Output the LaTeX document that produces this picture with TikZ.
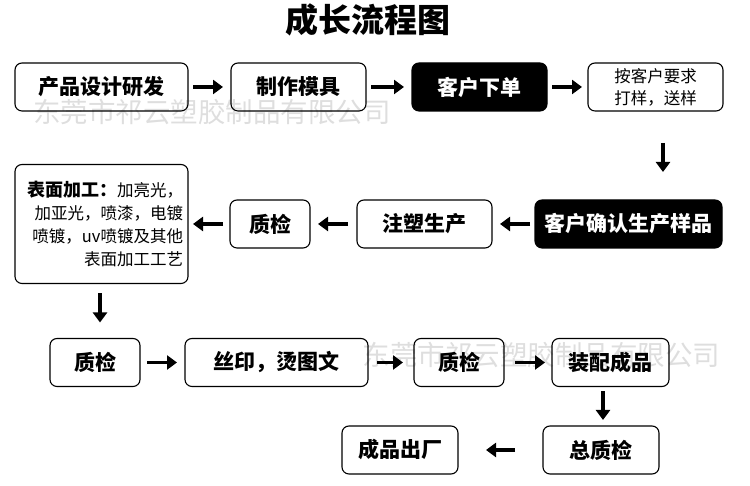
\documentclass[tikz,border=0pt]{standalone}
\usepackage{fontspec}
\setmainfont{Noto Sans CJK SC}
\usetikzlibrary{arrows.meta,positioning}

\begin{document}
\begin{tikzpicture}[x=1pt, y=1pt, node distance=43pt,
    box/.style={rectangle, draw, rounded corners=7pt, line width=1.1pt, minimum height=48pt, inner sep=0pt, outer sep=0pt, font=\bfseries\fontsize{21}{24}\selectfont},
    dark/.style={box, fill=black, text=white},
    arrow/.style={->, >={Triangle[length=10pt, width=14pt]}, line width=3.5pt},
    watermark/.style={text=black!13, font=\fontsize{27.5}{30}\selectfont}]

    \useasboundingbox (0,0) rectangle (750,486);

    % watermark, behind everything
    \node[watermark] (wm1) at (212,374) {东莞市祁云塑胶制品有限公司};
    \node[watermark] (wm2) at (541.5,131) {东莞市祁云塑胶制品有限公司};

    \node[font=\bfseries\fontsize{33}{36}\selectfont] (title) at (368,466) {成长流程图};

    % first row
    \node[box, minimum width=173pt] (design) at (101.5,399) {产品设计研发};
    \node[box, minimum width=135pt, right=43pt of design] (mould) {制作模具};
    \node[dark, minimum width=135pt, right=46pt of mould] (order) {客户下单};
    \node[box, minimum width=135pt, right=41pt of order, font=\fontsize{16.5}{22}\selectfont, align=center] (sample) {按客户要求\\打样，送样};

    % second row, right to left
    \node[dark, minimum width=187pt] (confirm) at (628.5,262) {客户确认生产样品};
    \node[box, minimum width=135pt, left=43pt of confirm] (moulding) {注塑生产};
    \node[box, minimum width=80pt, left=47pt of moulding] (check1) {质检};
    \node[box, minimum width=173pt, minimum height=119pt, left=42pt of check1, text width=163pt, align=right, font=\fontsize{16.5}{23}\selectfont] (surface) {{\bfseries\fontsize{18}{23}\selectfont 表面加工：}加亮光，\\加亚光，喷漆，电镀\\喷镀，uv喷镀及其他\\表面加工工艺};

    % third row
    \node[box, minimum width=90pt] (check2) at (95,123.5) {质检};
    \node[box, minimum width=183pt, right=45pt of check2] (print) {丝印，烫图文};
    \node[box, minimum width=90pt, right=46pt of print] (check3) {质检};
    \node[box, minimum width=117pt, right=48pt of check3] (assemble) {装配成品};

    % last row
    \node[box, minimum width=116pt] (final) at (601,36) {总质检};
    \node[box, minimum width=116pt, left=85pt of final] (ship) {成品出厂};

    \draw[arrow, shorten <=5pt, shorten >=8pt] (design) -- (mould);
    \draw[arrow, shorten <=5pt, shorten >=8pt] (mould) -- (order);
    \draw[arrow, shorten <=5pt, shorten >=6pt] (order) -- (sample);
    \draw[arrow, shorten <=32pt, shorten >=28pt] ([xshift=7.5pt]sample.south) -- ([xshift=7.5pt]sample.south |- confirm.north);
    \draw[arrow, shorten <=5pt, shorten >=8pt] (confirm) -- (moulding);
    \draw[arrow, shorten <=9pt, shorten >=8pt] (moulding) -- (check1);
    \draw[arrow, shorten <=7pt, shorten >=5pt] (check1) -- (surface);
    \draw[arrow, shorten <=10pt, shorten >=16pt] ([xshift=-1.5pt]surface.south) -- ([xshift=-1.5pt]surface.south |- check2.north);
    \draw[arrow, shorten <=7pt, shorten >=8pt] (check2) -- (print);
    \draw[arrow, shorten <=9pt, shorten >=11pt] (print) -- (check3);
    \draw[arrow, shorten <=11pt, shorten >=7pt] (check3) -- (assemble);
    \draw[arrow, shorten <=5pt, shorten >=6pt] ([xshift=-7.5pt]assemble.south) -- ([xshift=-7.5pt]assemble.south |- final.north);
    \draw[arrow, shorten <=28pt, shorten >=28pt] (final) -- (ship);
\end{tikzpicture}
\end{document}
